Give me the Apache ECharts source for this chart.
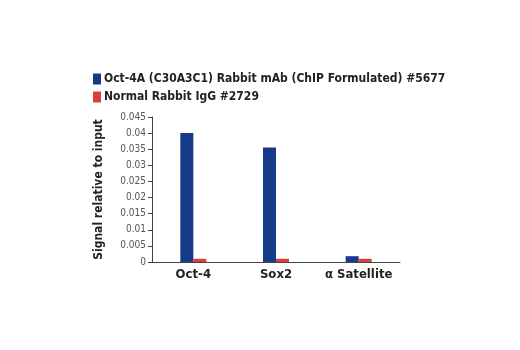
<!DOCTYPE html>
<html><head><meta charset="utf-8">
<script src="https://cdn.jsdelivr.net/npm/echarts@6/dist/echarts.min.js"></script>
<style>html,body{margin:0;padding:0;background:#fff}#c{width:520px;height:350px}</style>
</head><body><div id="c"></div>
<script>
const categories = ['Oct-4', 'Sox2', 'α Satellite'];
const seriesNames = ['Oct-4A (C30A3C1) Rabbit mAb (ChIP Formulated) #5677', 'Normal Rabbit IgG #2729'];
const oct4aValues = [0.0400, 0.0355, 0.0018];
const iggValues = [0.0010, 0.0010, 0.0010];
const yTicks = [0, 0.005, 0.01, 0.015, 0.02, 0.025, 0.03, 0.035, 0.04, 0.045];

const chart = echarts.init(document.getElementById('c'), null, {renderer: 'canvas'});
const cond = "'Liberation Sans Narrow', 'DejaVu Sans Condensed', 'Roboto', sans-serif";
chart.setOption({
  animation: false,
  backgroundColor: '#fff',
  legend: {
    orient: 'vertical', left: 88, top: 68, itemWidth: 8, itemHeight: 11, itemGap: 6,
    icon: 'rect',
    textStyle: {fontFamily: cond, fontWeight: 'bold', fontSize: 12, color: '#222', padding: [0,0,0,-2]},
    data: seriesNames
  },
  grid: {left: 152, right: 120, top: 117, bottom: 88, containLabel: false},
  xAxis: {
    type: 'category', data: categories,
    axisLine: {lineStyle: {color: '#444', width: 1}},
    axisTick: {show: false},
    axisLabel: {interval: 0, fontFamily: cond, fontWeight: 'bold', fontSize: 13, color: '#222', margin: 6}
  },
  yAxis: {
    type: 'value', min: 0, max: 0.045, interval: 0.005,
    name: 'Signal relative to input', nameLocation: 'middle', nameGap: 47, nameRotate: 90,
    nameTextStyle: {fontFamily: cond, fontWeight: 'bold', fontSize: 12, color: '#222'},
    axisLine: {show: true, lineStyle: {color: '#444', width: 1}},
    axisTick: {show: true, inside: false, length: 4, lineStyle: {color: '#444'}},
    splitLine: {show: false},
    axisLabel: {fontFamily: cond, fontSize: 10, color: '#555', margin: 6,
      formatter: v => { const t = yTicks.find(x => Math.abs(x - v) < 1e-9); return t === undefined ? '' : String(t); }}
  },
  series: [
    {name: seriesNames[0], type: 'bar', data: oct4aValues, barWidth: 13, barGap: '0%', itemStyle: {color: '#153a88'}},
    {name: seriesNames[1], type: 'bar', data: iggValues, barWidth: 13, barGap: '0%', itemStyle: {color: '#d8403d'}}
  ]
});
</script></body></html>
